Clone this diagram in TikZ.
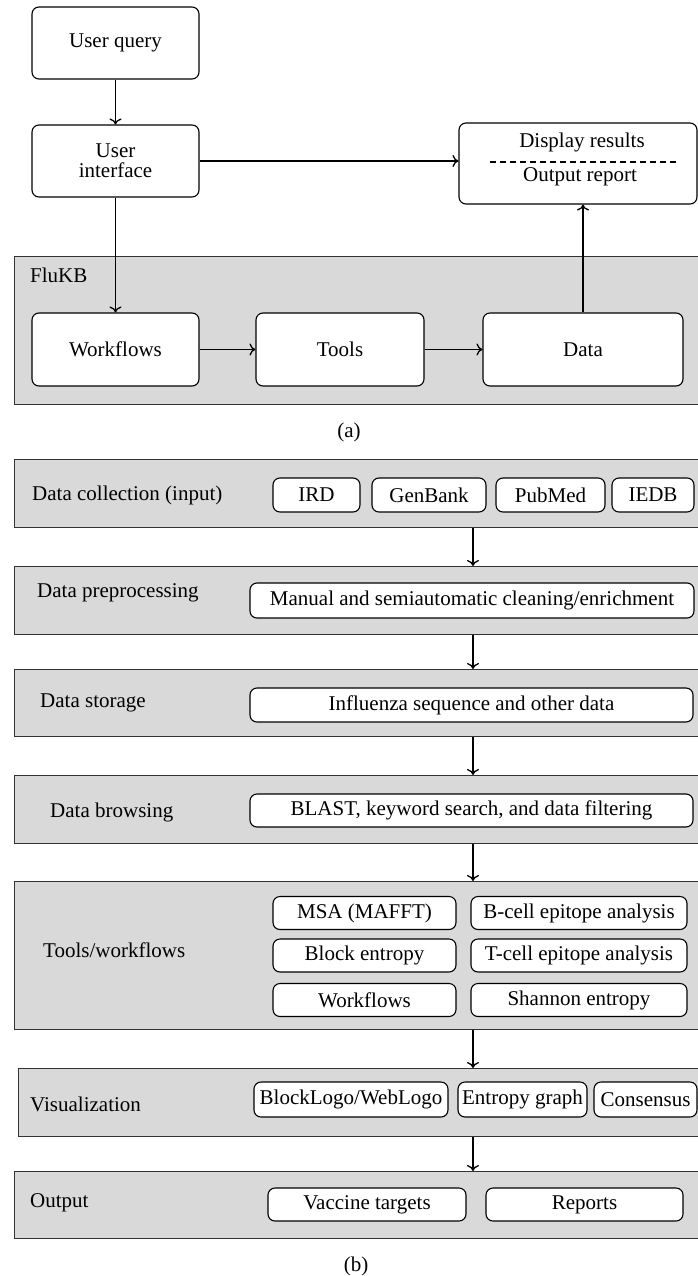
\documentclass[tikz,border=0pt]{standalone}
\usepackage{fontspec}
\setmainfont{Liberation Serif}
\usetikzlibrary{arrows.meta}

\tikzset{
  box/.style={draw, rounded corners=7pt, fill=white, line width=1.1pt, inner sep=0pt},
  panel/.style={draw=black!80, fill=black!15, line width=1.4pt, inner sep=0pt,
    anchor=north west, minimum width=700},
  lbl/.style={anchor=west, inner sep=0pt},
  flow/.style={->, line width=1.3pt}
}

\begin{document}
\begin{tikzpicture}[x=1pt, y=-1pt, >={To[length=6pt,width=12pt]},
    every node/.style={font=\fontsize{21}{20}\selectfont}]
  \useasboundingbox (0,0) rectangle (698,1276);

  % (a)
  \node[box, minimum width=167, minimum height=72] (query) at (115.5,43) {User query};
  \node[box, minimum width=167, minimum height=72, align=center] (ui) at (115.5,161) {User\\interface};
  \node[box, minimum width=238, minimum height=81] (disp) at (578,163.5) {};
  \node (show) at (582,142) {Display results};
  \node (report) at (580,177) {Output report};
  \draw[dash pattern=on 6pt off 4pt, line width=1.1pt] (490,162) -- (679,162);

  \node[panel, minimum height=148] (flukb) at (14,256) {};
  \node[lbl] (flukbl) at (30,275) {FluKB};
  \node[box, minimum width=167, minimum height=73] (wf) at (115.5,349.5) {Workflows};
  \node[box, minimum width=168, minimum height=73] (tools) at (340,349.5) {Tools};
  \node[box, minimum width=200, minimum height=73] (data) at (583,349.5) {Data};

  \draw[flow] (query) -- (ui);
  \draw[flow] (ui.east) -- (ui.east -| disp.west);
  \draw[flow] (ui) -- (wf);
  \draw[flow] (wf) -- (tools);
  \draw[flow] (tools) -- (data);
  \draw[flow] (data.north) -- (data.north |- disp.south);
  \node (capa) at (349,432) {(a)};

  % (b)
  \coordinate (mid) at (473,0);

  \node[panel, minimum height=68] (collect) at (14,459) {};
  \node[lbl] (collectl) at (32,495) {Data collection (input)};
  \node[box, minimum width=87, minimum height=34] (ird) at (316.5,495) {IRD};
  \node[box, minimum width=114, minimum height=34] (genbank) at (429,495) {GenBank};
  \node[box, minimum width=109, minimum height=34] (pubmed) at (550.5,495) {PubMed};
  \node[box, minimum width=82, minimum height=34] (iedb) at (653,495) {IEDB};

  \node[panel, minimum height=68] (prep) at (14,566) {};
  \node[lbl] (prepl) at (37,593) {Data preprocessing};
  \node[box, minimum width=444, minimum height=35] (clean) at (472,600.5) {Manual and semiautomatic cleaning/enrichment};

  \node[panel, minimum height=67] (store) at (14,669) {};
  \node[lbl] (storel) at (40,703) {Data storage};
  \node[box, minimum width=443, minimum height=34] (seq) at (471.5,705) {Influenza sequence and other data};

  \node[panel, minimum height=68] (browse) at (14,775) {};
  \node[lbl] (browsel) at (50,812) {Data browsing};
  \node[box, minimum width=443, minimum height=33] (blast) at (471.5,810.5) {BLAST, keyword search, and data filtering};

  \node[panel, minimum height=148] (toolsb) at (14,881) {};
  \node[lbl] (toolsbl) at (43,950) {Tools/workflows};
  \node[box, minimum width=183, minimum height=33] (msa) at (364.5,913) {MSA (MAFFT)};
  \node[box, minimum width=183, minimum height=33] (block) at (364.5,955.5) {Block entropy};
  \node[box, minimum width=183, minimum height=33] (wfb) at (364.5,1000) {Workflows};
  \node[box, minimum width=216, minimum height=33] (bcell) at (579,913) {B-cell epitope analysis};
  \node[box, minimum width=216, minimum height=33] (tcell) at (579,955.5) {T-cell epitope analysis};
  \node[box, minimum width=216, minimum height=33] (shannon) at (579,1000) {Shannon entropy};

  \node[panel, minimum height=68, minimum width=696] (vis) at (18,1068) {};
  \node[lbl] (visl) at (30,1104) {Visualization};
  \node[box, minimum width=194, minimum height=35] (logo) at (351,1099.5) {BlockLogo/WebLogo};
  \node[box, minimum width=129, minimum height=35] (egraph) at (522.5,1099.5) {Entropy graph};
  \node[box, minimum width=103, minimum height=35] (cons) at (645.5,1099.5) {Consensus};

  \node[panel, minimum height=67] (out) at (14,1171) {};
  \node[lbl] (outl) at (30,1203) {Output};
  \node[box, minimum width=198, minimum height=33] (vacc) at (367,1204.5) {Vaccine targets};
  \node[box, minimum width=197, minimum height=33] (reports) at (584.5,1204.5) {Reports};

  \draw[flow] (collect.south -| mid) -- (prep.north -| mid);
  \draw[flow] (prep.south -| mid) -- (store.north -| mid);
  \draw[flow] (store.south -| mid) -- (browse.north -| mid);
  \draw[flow] (browse.south -| mid) -- (toolsb.north -| mid);
  \draw[flow] (toolsb.south -| mid) -- (vis.north -| mid);
  \draw[flow] (vis.south -| mid) -- (out.north -| mid);
  \node (capb) at (356,1266) {(b)};
\end{tikzpicture}
\end{document}
